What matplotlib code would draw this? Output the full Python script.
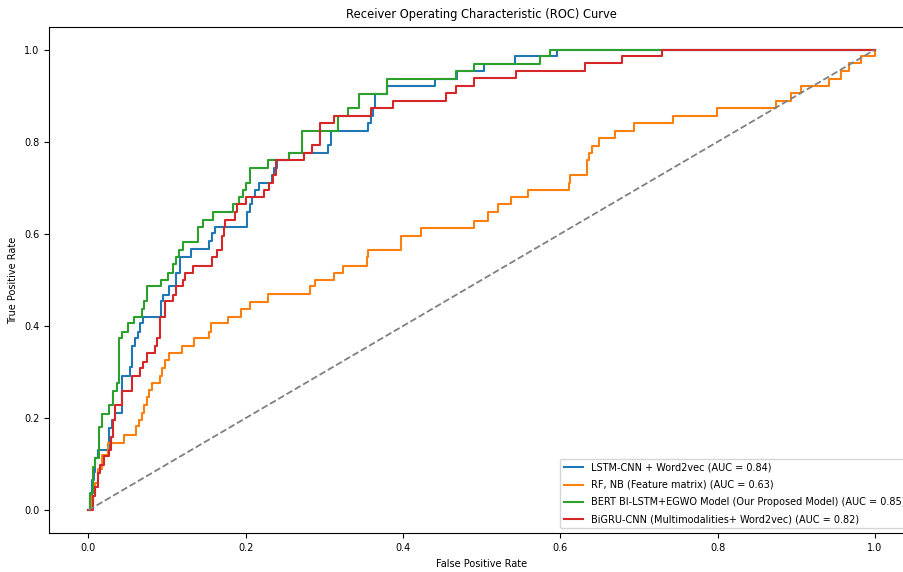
import matplotlib
matplotlib.use("Agg")
import matplotlib.pyplot as plt
from matplotlib import font_manager

# the reference text is narrow, so use a narrow face if one is installed
installed = {f.name for f in font_manager.fontManager.ttflist}
if 'Liberation Sans Narrow' in installed:
    plt.rcParams['font.family'] = ['Liberation Sans Narrow', 'DejaVu Sans']
    small, big = 8.2, 10
elif 'DejaVu Sans Condensed' in installed:
    plt.rcParams['font.family'] = ['DejaVu Sans Condensed', 'DejaVu Sans']
    small, big = 7.6, 9.2
else:
    plt.rcParams['font.family'] = ['DejaVu Sans']
    small, big = 7.0, 8.3

# ROC points: fpr where tpr jumps, tpr after the jump (drawn with steps-post)
lstm_fpr = [0, 0.0017, 0.0042, 0.0068, 0.0089, 0.012, 0.026, 0.030, 0.034, 0.043,
            0.053, 0.056, 0.059, 0.063, 0.066, 0.070, 0.092, 0.095, 0.102, 0.111,
            0.116, 0.130, 0.154, 0.157, 0.161, 0.202, 0.205, 0.208, 0.212, 0.217,
            0.233, 0.236, 0.240, 0.255, 0.305, 0.309, 0.356, 0.360, 0.362, 0.365,
            0.380, 0.441, 0.469, 0.503, 0.543, 0.596, 1.0]
lstm_tpr = [0, 0.03, 0.066, 0.084, 0.113, 0.131, 0.178, 0.196, 0.211, 0.291,
            0.311, 0.356, 0.374, 0.388, 0.406, 0.42, 0.454, 0.468, 0.486, 0.516,
            0.55, 0.567, 0.584, 0.601, 0.615, 0.647, 0.664, 0.68, 0.695, 0.71,
            0.727, 0.744, 0.76, 0.776, 0.793, 0.824, 0.84, 0.856, 0.873, 0.904,
            0.921, 0.937, 0.954, 0.969, 0.987, 1.0, 1.0]

rf_fpr = [0, 0.004, 0.008, 0.012, 0.018, 0.025, 0.046, 0.061, 0.065, 0.068,
          0.071, 0.074, 0.077, 0.081, 0.091, 0.094, 0.098, 0.102, 0.119, 0.135,
          0.153, 0.156, 0.178, 0.194, 0.206, 0.228, 0.282, 0.288, 0.312, 0.324,
          0.354, 0.356, 0.397, 0.423, 0.491, 0.508, 0.521, 0.537, 0.559, 0.611,
          0.613, 0.634, 0.636, 0.641, 0.649, 0.670, 0.694, 0.743, 0.799, 0.875,
          0.894, 0.906, 0.942, 0.957, 0.967, 0.983, 1.0]
rf_tpr = [0, 0.03, 0.06, 0.09, 0.12, 0.146, 0.164, 0.182, 0.196, 0.211,
          0.229, 0.247, 0.262, 0.276, 0.291, 0.309, 0.327, 0.341, 0.357, 0.374,
          0.388, 0.406, 0.42, 0.437, 0.453, 0.47, 0.486, 0.5, 0.516, 0.531,
          0.549, 0.565, 0.596, 0.613, 0.629, 0.647, 0.664, 0.68, 0.695, 0.711,
          0.727, 0.76, 0.776, 0.791, 0.809, 0.824, 0.84, 0.856, 0.873, 0.889,
          0.905, 0.921, 0.937, 0.954, 0.971, 0.987, 1.0]

bert_fpr = [0, 0.0025, 0.006, 0.009, 0.013, 0.017, 0.026, 0.032, 0.036, 0.039,
            0.043, 0.050, 0.058, 0.068, 0.071, 0.074, 0.093, 0.101, 0.108, 0.111,
            0.115, 0.120, 0.139, 0.146, 0.159, 0.184, 0.192, 0.197, 0.200, 0.206,
            0.229, 0.255, 0.272, 0.318, 0.330, 0.344, 0.380, 0.467, 0.490, 0.574,
            0.587, 1.0]
bert_tpr = [0, 0.037, 0.095, 0.113, 0.18, 0.21, 0.229, 0.26, 0.276, 0.374,
            0.388, 0.406, 0.42, 0.437, 0.454, 0.486, 0.5, 0.516, 0.535, 0.55,
            0.565, 0.582, 0.615, 0.631, 0.647, 0.664, 0.68, 0.695, 0.71, 0.744,
            0.76, 0.776, 0.824, 0.856, 0.873, 0.904, 0.937, 0.954, 0.969, 0.987,
            1.0, 1.0]

bigru_fpr = [0, 0.006, 0.009, 0.012, 0.015, 0.020, 0.026, 0.029, 0.032, 0.034,
             0.043, 0.055, 0.066, 0.070, 0.075, 0.085, 0.087, 0.091, 0.098, 0.108,
             0.112, 0.120, 0.123, 0.133, 0.157, 0.164, 0.170, 0.172, 0.174, 0.187,
             0.189, 0.201, 0.223, 0.230, 0.235, 0.238, 0.274, 0.284, 0.295, 0.312,
             0.360, 0.387, 0.455, 0.467, 0.490, 0.544, 0.632, 0.679, 0.730, 1.0]
bigru_tpr = [0, 0.03, 0.051, 0.08, 0.098, 0.117, 0.131, 0.16, 0.196, 0.229,
             0.26, 0.291, 0.309, 0.323, 0.341, 0.356, 0.374, 0.42, 0.454, 0.468,
             0.486, 0.5, 0.516, 0.531, 0.549, 0.565, 0.596, 0.615, 0.631, 0.647,
             0.664, 0.68, 0.695, 0.71, 0.727, 0.76, 0.776, 0.793, 0.84, 0.856,
             0.873, 0.889, 0.905, 0.921, 0.938, 0.954, 0.971, 0.987, 1.0, 1.0]

labels = ['LSTM-CNN + Word2vec (AUC = 0.84)',
          'RF, NB (Feature matrix) (AUC = 0.63)',
          'BERT BI-LSTM+EGWO Model (Our Proposed Model) (AUC = 0.85)',
          'BiGRU-CNN (Multimodalities+ Word2vec) (AUC = 0.82)']
colors = ['#1f77b4', '#ff7f0e', '#2ca02c', '#d62728']

fig = plt.figure(figsize=(9.04, 5.72), dpi=100)
# the reference is cropped on the right, so the axes run past the edge
ax = fig.add_axes([0.0542, 0.0677, 0.957, 0.8856])

curves = [(lstm_fpr, lstm_tpr), (rf_fpr, rf_tpr), (bert_fpr, bert_tpr), (bigru_fpr, bigru_tpr)]
for (f, t), lab, c in zip(curves, labels, colors):
    ax.plot(f, t, drawstyle='steps-post', color=c, lw=1.5, label=lab)

ax.plot([0, 1], [0, 1], color='gray', linestyle='--', lw=1.3)

ax.set_xlim(-0.05, 1.05)
ax.set_ylim(-0.05, 1.05)
ax.set_xticks([0.0, 0.2, 0.4, 0.6, 0.8, 1.0])
ax.set_yticks([0.0, 0.2, 0.4, 0.6, 0.8, 1.0])
ax.tick_params(labelsize=small)
ax.set_xlabel('False Positive Rate', fontsize=small)
ax.set_ylabel('True Positive Rate', fontsize=small)
ax.set_title('Receiver Operating Characteristic (ROC) Curve', fontsize=big)
ax.legend(loc='lower right', fontsize=small, labelspacing=0.75)

fig.savefig('out.png', dpi=100)
